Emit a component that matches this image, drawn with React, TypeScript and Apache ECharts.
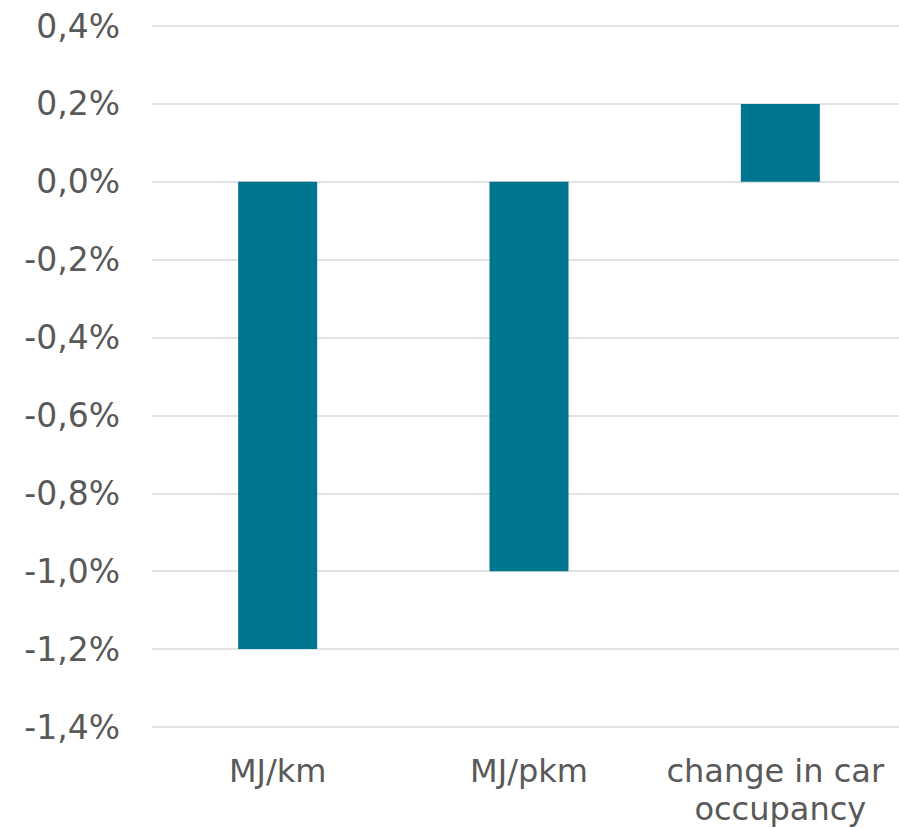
import React, { useEffect, useRef } from "react";
import * as echarts from "echarts";

const categories = ["MJ/km", "MJ/pkm", "change in car occupancy"];
const values = [-1.2, -1.0, 0.2];
const yMin = -1.4;
const yMax = 0.4;
const yStep = 0.2;

const fmt = (v: number) => {
  const r = Math.abs(v) < 1e-9 ? 0 : v;
  return r.toFixed(1).replace(".", ",") + "%";
};

export default function App() {
  const ref = useRef<HTMLDivElement>(null);
  useEffect(() => {
    if (!ref.current) return;
    const chart = echarts.init(ref.current, undefined, { renderer: "svg" });
    chart.setOption({
      animation: false,
      backgroundColor: "#ffffff",
      grid: { left: 152, right: 0, top: 26, bottom: 98, containLabel: false },
      xAxis: {
        type: "category",
        data: categories,
        position: "bottom",
        axisLine: { show: false },
        axisTick: { show: false },
        axisLabel: {
          color: "#595959",
          fontFamily: "DejaVu Sans",
          fontSize: 32,
          lineHeight: 38,
          margin: 25,
          width: 240,
          overflow: "break",
          interval: 0,
        },
      },
      yAxis: {
        type: "value",
        min: yMin,
        max: yMax,
        interval: yStep,
        axisLine: { show: false },
        axisTick: { show: false },
        splitLine: { lineStyle: { color: "#d9d9d9", width: 1.5 } },
        axisLabel: {
          color: "#595959",
          fontFamily: "DejaVu Sans",
          fontSize: 33,
          margin: 32,
          formatter: (v: number) => fmt(v),
        },
      },
      series: [
        {
          type: "bar",
          data: values,
          barWidth: 79,
          itemStyle: { color: "#00758f" },
        },
      ],
    });
    return () => chart.dispose();
  }, []);
  return (
    <div style={{ position: "absolute", left: 0, top: 0, width: 899, height: 828, overflow: "hidden", background: "#fff" }}>
      <div ref={ref} style={{ width: 906, height: 828 }} />
    </div>
  );
}
